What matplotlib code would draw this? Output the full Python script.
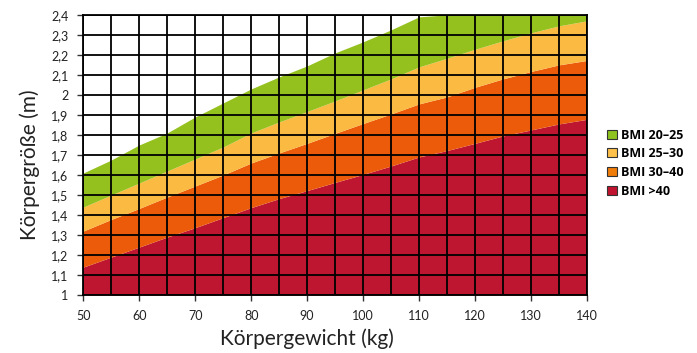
import numpy as np
import matplotlib.pyplot as plt
from matplotlib.patches import Patch

plt.rcParams['font.family'] = ['Lato', 'DejaVu Sans']

# Körpergewicht (kg) und obere Grenzen der BMI-Bänder (m)
weight = [50, 55, 60, 65, 70, 75, 80, 85, 90, 95, 100, 105, 110, 115, 120, 125, 130, 135, 140]
top_20_25 = [1.61, 1.675, 1.75, 1.81, 1.89, 1.96, 2.03, 2.09, 2.145, 2.21, 2.265, 2.325, 2.39,
             2.4, 2.4, 2.4, 2.4, 2.4, 2.4]
top_25_30 = [1.44, 1.50, 1.56, 1.62, 1.68, 1.74, 1.81, 1.865, 1.917, 1.97, 2.025, 2.08, 2.14,
             2.183, 2.228, 2.27, 2.31, 2.345, 2.37]
top_30_40 = [1.32, 1.378, 1.433, 1.49, 1.545, 1.60, 1.66, 1.71, 1.758, 1.808, 1.857, 1.905, 1.955,
             1.99, 2.038, 2.08, 2.117, 2.15, 2.172]
top_40 = [1.14, 1.19, 1.24, 1.29, 1.337, 1.387, 1.437, 1.482, 1.522, 1.563, 1.603, 1.645, 1.69,
          1.722, 1.758, 1.795, 1.825, 1.855, 1.878]

labels = ['BMI 20–25', 'BMI 25–30', 'BMI 30–40', 'BMI >40']
colors = ['#95c11f', '#fbba42', '#eb5b0a', '#be1630']
legend_colors = ['#8dc21f', '#fdc04a', '#f07d0a', '#c0132f']

fig = plt.figure(figsize=(6.97, 3.53), dpi=100)
ax = fig.add_axes([0.1195, 0.164, 0.7225, 0.794])

bottom = [1.0] * len(weight)
bands = [(top_40, bottom), (top_30_40, top_40), (top_25_30, top_30_40), (top_20_25, top_25_30)]
band_colors = colors[::-1]
for (hi, lo), c in zip(bands, band_colors):
    ax.fill_between(weight, lo, hi, color=c, lw=0, zorder=1)

ax.set_xlim(50, 140)
ax.set_ylim(1, 2.4)
ax.set_xticks(np.arange(50, 141, 10))
ax.set_xticks(np.arange(50, 141, 5), minor=True)
yt = np.round(np.arange(1.0, 2.41, 0.1), 1)
ax.set_yticks(yt)
ax.set_yticklabels([('%g' % v).replace('.', ',') for v in yt])
ax.grid(True, which='both', color='black', lw=1.3, zorder=2)
ax.set_axisbelow(False)
ax.tick_params(which='both', direction='out', length=4.5, width=1, color='#333333',
               labelsize=9, labelcolor='#222222')
ax.tick_params(axis='x', pad=6)
ax.tick_params(axis='y', pad=6)
ax.tick_params(which='minor', length=0)
for s in ax.spines.values():
    s.set_color('black')
    s.set_linewidth(1.3)
    s.set_zorder(3)

ax.set_xlabel('Körpergewicht (kg)', fontsize=15, labelpad=5, x=0.444, color='#222222')
ax.set_ylabel('Körpergröße (m)', fontsize=15, labelpad=8, y=0.464, color='#222222')

handles = [Patch(facecolor=c, edgecolor='#333333', lw=0.8) for c in legend_colors]
fig.legend(handles, labels, loc='center left', bbox_to_anchor=(0.855, 0.538), frameon=False,
           handlelength=0.75, handleheight=0.75, handletextpad=0.35, labelspacing=0.45,
           prop={'family': ['Open Sans', 'DejaVu Sans'], 'size': 9, 'weight': 'bold'})

fig.savefig('out.png', dpi=100)
